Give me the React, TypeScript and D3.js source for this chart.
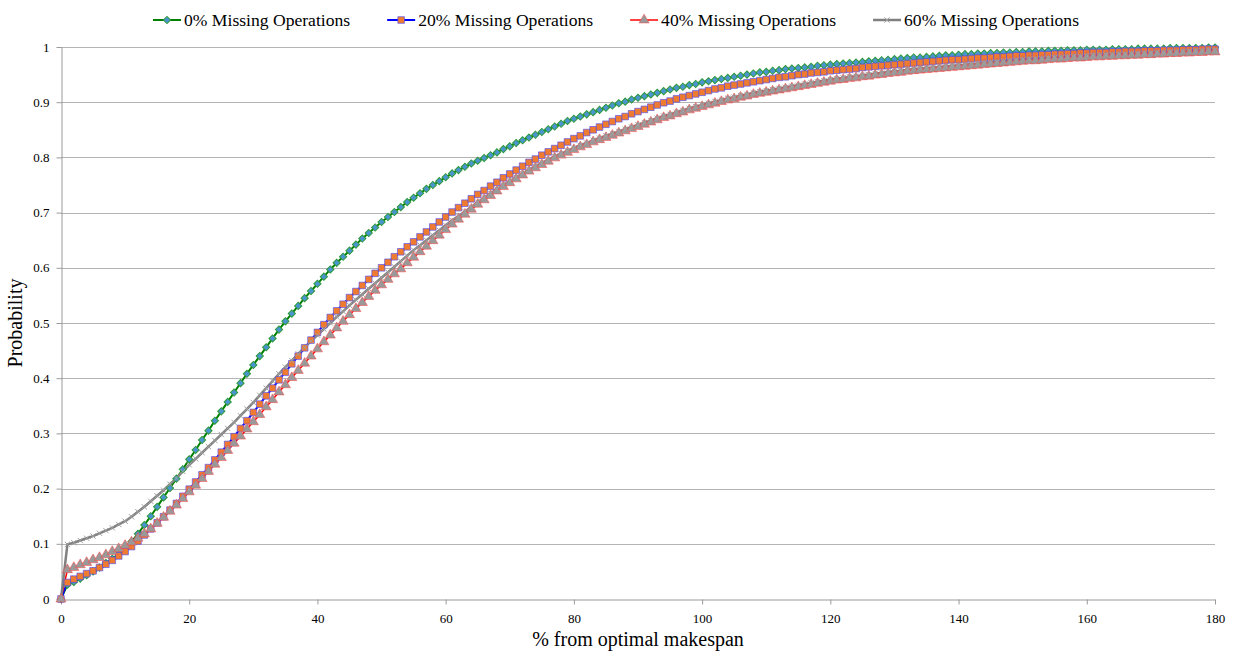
import React, { useRef, useEffect } from 'react';
import * as d3 from 'd3';

// x categories: % from optimal makespan
const makespanPct = d3.range(0, 181);

const xTicks = [0, 20, 40, 60, 80, 100, 120, 140, 160, 180];
const yTicks = [0, 0.1, 0.2, 0.3, 0.4, 0.5, 0.6, 0.7, 0.8, 0.9, 1];

const seriesNames = [
  '0% Missing Operations',
  '20% Missing Operations',
  '40% Missing Operations',
  '60% Missing Operations',
];

// cumulative probability, one value per x category
const missing0 = [
  0, 0.026, 0.031, 0.037, 0.043, 0.050, 0.057, 0.065, 0.073, 0.082,
  0.092, 0.104, 0.118, 0.134, 0.150, 0.167, 0.184, 0.201, 0.218, 0.235,
  0.253, 0.270, 0.288, 0.305, 0.323, 0.340, 0.357, 0.374, 0.391, 0.408,
  0.424, 0.440, 0.456, 0.472, 0.488, 0.503, 0.517, 0.531, 0.545, 0.558,
  0.571, 0.584, 0.597, 0.609, 0.620, 0.631, 0.642, 0.653, 0.663, 0.673,
  0.683, 0.692, 0.701, 0.710, 0.719, 0.727, 0.735, 0.743, 0.750, 0.757,
  0.764, 0.771, 0.777, 0.783, 0.789, 0.794, 0.799, 0.804, 0.809, 0.815,
  0.820, 0.826, 0.831, 0.836, 0.841, 0.846, 0.851, 0.856, 0.861, 0.866,
  0.870, 0.874, 0.878, 0.882, 0.886, 0.890, 0.894, 0.898, 0.901, 0.905,
  0.908, 0.911, 0.914, 0.917, 0.920, 0.923, 0.926, 0.928, 0.931, 0.933,
  0.936, 0.938, 0.940, 0.942, 0.944, 0.946, 0.948, 0.950, 0.952, 0.954,
  0.955, 0.957, 0.958, 0.960, 0.961, 0.962, 0.963, 0.964, 0.966, 0.967,
  0.968, 0.969, 0.970, 0.971, 0.972, 0.973, 0.974, 0.975, 0.976, 0.977,
  0.978, 0.979, 0.980, 0.981, 0.981, 0.982, 0.983, 0.984, 0.985, 0.985,
  0.986, 0.987, 0.987, 0.988, 0.988, 0.989, 0.989, 0.990, 0.990, 0.991,
  0.991, 0.992, 0.992, 0.992, 0.993, 0.993, 0.993, 0.994, 0.994, 0.994,
  0.995, 0.995, 0.995, 0.995, 0.996, 0.996, 0.996, 0.996, 0.997, 0.997,
  0.997, 0.997, 0.997, 0.998, 0.998, 0.998, 0.998, 0.998, 0.998, 0.999,
  0.999,
];

const missing20 = [
  0, 0.030, 0.036, 0.041, 0.046, 0.051, 0.057, 0.063, 0.070, 0.078,
  0.086, 0.095, 0.105, 0.116, 0.127, 0.138, 0.149, 0.161, 0.173, 0.186,
  0.199, 0.212, 0.225, 0.238, 0.252, 0.266, 0.280, 0.294, 0.309, 0.323,
  0.338, 0.353, 0.368, 0.382, 0.397, 0.411, 0.426, 0.440, 0.455, 0.469,
  0.483, 0.497, 0.510, 0.522, 0.534, 0.546, 0.557, 0.568, 0.579, 0.590,
  0.600, 0.610, 0.620, 0.629, 0.638, 0.647, 0.656, 0.665, 0.674, 0.683,
  0.692, 0.701, 0.709, 0.717, 0.725, 0.733, 0.740, 0.748, 0.755, 0.763,
  0.770, 0.777, 0.784, 0.791, 0.797, 0.804, 0.810, 0.816, 0.822, 0.828,
  0.834, 0.839, 0.845, 0.850, 0.855, 0.860, 0.865, 0.870, 0.874, 0.879,
  0.883, 0.887, 0.891, 0.895, 0.899, 0.902, 0.906, 0.909, 0.912, 0.915,
  0.918, 0.921, 0.924, 0.926, 0.929, 0.931, 0.933, 0.935, 0.937, 0.939,
  0.941, 0.943, 0.945, 0.946, 0.948, 0.950, 0.951, 0.953, 0.954, 0.955,
  0.957, 0.958, 0.959, 0.960, 0.961, 0.963, 0.964, 0.965, 0.966, 0.967,
  0.968, 0.969, 0.970, 0.971, 0.972, 0.973, 0.974, 0.975, 0.976, 0.977,
  0.977, 0.978, 0.979, 0.980, 0.980, 0.981, 0.982, 0.982, 0.983, 0.984,
  0.984, 0.985, 0.985, 0.986, 0.986, 0.987, 0.987, 0.988, 0.988, 0.989,
  0.989, 0.990, 0.990, 0.990, 0.991, 0.991, 0.992, 0.992, 0.992, 0.993,
  0.993, 0.993, 0.994, 0.994, 0.994, 0.995, 0.995, 0.995, 0.996, 0.996,
  0.996,
];

const missing40 = [
  0, 0.053, 0.057, 0.062, 0.066, 0.071, 0.075, 0.080, 0.086, 0.091,
  0.097, 0.103, 0.110, 0.118, 0.127, 0.137, 0.148, 0.159, 0.170, 0.182,
  0.194, 0.206, 0.218, 0.231, 0.244, 0.256, 0.269, 0.282, 0.295, 0.308,
  0.321, 0.334, 0.348, 0.361, 0.375, 0.388, 0.401, 0.414, 0.427, 0.440,
  0.453, 0.466, 0.478, 0.491, 0.503, 0.515, 0.526, 0.537, 0.548, 0.559,
  0.569, 0.579, 0.589, 0.598, 0.609, 0.619, 0.629, 0.639, 0.649, 0.659,
  0.669, 0.679, 0.688, 0.697, 0.706, 0.715, 0.723, 0.731, 0.739, 0.747,
  0.754, 0.761, 0.768, 0.775, 0.781, 0.787, 0.793, 0.799, 0.804, 0.809,
  0.814, 0.819, 0.823, 0.828, 0.832, 0.836, 0.840, 0.844, 0.848, 0.852,
  0.856, 0.860, 0.864, 0.868, 0.872, 0.875, 0.879, 0.882, 0.886, 0.889,
  0.892, 0.895, 0.898, 0.901, 0.904, 0.906, 0.909, 0.911, 0.914, 0.916,
  0.918, 0.920, 0.922, 0.924, 0.926, 0.928, 0.930, 0.932, 0.934, 0.936,
  0.938, 0.940, 0.941, 0.943, 0.944, 0.946, 0.947, 0.949, 0.950, 0.952,
  0.953, 0.954, 0.956, 0.957, 0.958, 0.959, 0.960, 0.961, 0.962, 0.963,
  0.964, 0.965, 0.966, 0.967, 0.968, 0.969, 0.970, 0.971, 0.972, 0.973,
  0.974, 0.975, 0.975, 0.976, 0.977, 0.978, 0.978, 0.979, 0.980, 0.980,
  0.981, 0.982, 0.982, 0.983, 0.983, 0.984, 0.984, 0.985, 0.985, 0.986,
  0.986, 0.987, 0.987, 0.988, 0.988, 0.989, 0.989, 0.990, 0.990, 0.991,
  0.991,
];

const missing60 = [
  0, 0.099, 0.102, 0.106, 0.110, 0.114, 0.119, 0.124, 0.129, 0.135,
  0.141, 0.149, 0.158, 0.167, 0.177, 0.187, 0.197, 0.208, 0.219, 0.231,
  0.243, 0.254, 0.265, 0.276, 0.287, 0.298, 0.309, 0.320, 0.332, 0.344,
  0.356, 0.369, 0.382, 0.395, 0.408, 0.420, 0.432, 0.444, 0.456, 0.467,
  0.478, 0.489, 0.500, 0.511, 0.521, 0.532, 0.542, 0.552, 0.562, 0.572,
  0.582, 0.592, 0.602, 0.612, 0.622, 0.632, 0.641, 0.650, 0.659, 0.668,
  0.677, 0.686, 0.694, 0.702, 0.710, 0.719, 0.727, 0.735, 0.743, 0.750,
  0.757, 0.764, 0.771, 0.778, 0.784, 0.790, 0.796, 0.802, 0.807, 0.812,
  0.817, 0.822, 0.826, 0.831, 0.835, 0.839, 0.843, 0.847, 0.851, 0.855,
  0.859, 0.863, 0.867, 0.871, 0.875, 0.878, 0.882, 0.885, 0.889, 0.892,
  0.895, 0.898, 0.901, 0.904, 0.907, 0.909, 0.912, 0.914, 0.917, 0.919,
  0.921, 0.923, 0.925, 0.927, 0.929, 0.931, 0.933, 0.935, 0.937, 0.939,
  0.941, 0.943, 0.944, 0.946, 0.947, 0.949, 0.950, 0.952, 0.953, 0.955,
  0.956, 0.957, 0.959, 0.960, 0.961, 0.962, 0.963, 0.964, 0.965, 0.966,
  0.967, 0.968, 0.969, 0.970, 0.971, 0.972, 0.973, 0.974, 0.975, 0.976,
  0.977, 0.978, 0.978, 0.979, 0.980, 0.981, 0.981, 0.982, 0.983, 0.983,
  0.984, 0.985, 0.985, 0.986, 0.986, 0.987, 0.987, 0.988, 0.988, 0.989,
  0.989, 0.990, 0.990, 0.991, 0.991, 0.992, 0.992, 0.993, 0.993, 0.994,
  0.994,
];

const allSeries = [missing0, missing20, missing40, missing60];

// look of each series, Excel style
const styles = [
  { line: '#008000', width: 2, symbol: d3.symbolSquare, size: 26, rotate: 45, fill: '#4a94d0', stroke: '#2f9a3c', sw: 1 },
  { line: '#0000ff', width: 2, symbol: d3.symbolSquare, size: 44, rotate: 0, fill: '#ee7b30', stroke: 'rgba(70,70,255,0.6)', sw: 1 },
  { line: '#ff0000', width: 1.5, symbol: d3.symbolTriangle, size: 44, rotate: 0, fill: '#999999', stroke: 'rgba(255,70,70,0.6)', sw: 0.9 },
  { line: '#808080', width: 2.5, symbol: d3.symbolX, size: 20, rotate: 0, fill: 'none', stroke: '#a0a0a0', sw: 1 },
];

const W = 1235;
const H = 652;
const margin = { top: 47, right: 20, bottom: 53, left: 61 };
const FONT = "'Liberation Serif', 'DejaVu Serif', serif";

const App = () => {
  const chart = useRef<SVGSVGElement>(null);

  useEffect(() => {
    const svg = d3.select(chart.current);
    svg.selectAll('*').remove();

    const x = d3.scaleLinear().domain([0, 180]).range([margin.left, W - margin.right]);
    const y = d3.scaleLinear().domain([0, 1]).range([H - margin.bottom, margin.top]);

    // grid
    svg.append('g')
      .selectAll('line')
      .data(yTicks.slice(1))
      .join('line')
      .attr('x1', x(0))
      .attr('x2', x(180))
      .attr('y1', d => Math.round(y(d)) + 0.5)
      .attr('y2', d => Math.round(y(d)) + 0.5)
      .attr('stroke', '#b4b4b4')
      .attr('stroke-width', 1);

    // x axis
    const xAxis = svg.append('g')
      .attr('transform', `translate(0,${Math.round(y(0)) + 0.5})`)
      .call(d3.axisBottom(x).tickValues(xTicks).tickSize(5).tickSizeOuter(0).tickPadding(9).tickFormat(d => String(d)));
    xAxis.attr('font-family', null).attr('font-size', null);
    xAxis.select('.domain').attr('stroke', '#9a9a9a');
    xAxis.selectAll('line').attr('stroke', '#9a9a9a');
    xAxis.selectAll('text').style('font-family', FONT).style('font-size', '13px').attr('fill', '#000');

    // y axis
    const yAxis = svg.append('g')
      .attr('transform', `translate(${Math.round(x(0)) + 0.5},0)`)
      .call(d3.axisLeft(y).tickValues(yTicks).tickSize(5).tickSizeOuter(0).tickPadding(7).tickFormat(d => String(d)));
    yAxis.attr('font-family', null).attr('font-size', null);
    yAxis.select('.domain').attr('stroke', '#9a9a9a');
    yAxis.selectAll('line').attr('stroke', '#9a9a9a');
    yAxis.selectAll('text').style('font-family', FONT).style('font-size', '13px').attr('fill', '#000');

    // axis titles
    svg.append('text')
      .attr('x', (x(0) + x(180)) / 2)
      .attr('y', 646)
      .attr('text-anchor', 'middle')
      .style('font-family', FONT)
      .style('font-size', '20px')
      .text('% from optimal makespan');

    svg.append('text')
      .attr('transform', `translate(22,${(y(0) + y(1)) / 2}) rotate(-90)`)
      .attr('text-anchor', 'middle')
      .style('font-family', FONT)
      .style('font-size', '20px')
      .text('Probability');

    // lines first, then markers on top (like Excel)
    const line = d3.line<number>()
      .x((d, i) => x(makespanPct[i]))
      .y(d => y(d));

    svg.append('g')
      .selectAll('path')
      .data(allSeries)
      .join('path')
      .attr('d', d => line(d))
      .attr('fill', 'none')
      .attr('stroke', (d, i) => styles[i].line)
      .attr('stroke-width', (d, i) => styles[i].width)
      .attr('stroke-linejoin', 'round');

    allSeries.forEach((values, s) => {
      const st = styles[s];
      const sym = d3.symbol().type(st.symbol).size(st.size);
      svg.append('g')
        .selectAll('path')
        .data(values)
        .join('path')
        .attr('d', sym)
        .attr('transform', (d, i) => `translate(${x(makespanPct[i])},${y(d)}) rotate(${st.rotate})`)
        .attr('fill', st.fill)
        .attr('stroke', st.stroke)
        .attr('stroke-width', st.sw);
    });

    // legend
    const legend = svg.append('g');
    const items = legend.selectAll('g')
      .data(seriesNames)
      .join('g');
    items.append('line')
      .attr('x1', 0).attr('x2', 28)
      .attr('y1', 20).attr('y2', 20)
      .attr('stroke', (d, i) => styles[i].line)
      .attr('stroke-width', (d, i) => styles[i].width);
    items.append('path')
      .attr('d', (d, i) => d3.symbol().type(styles[i].symbol).size(styles[i].size)())
      .attr('transform', (d, i) => `translate(14,20) rotate(${styles[i].rotate})`)
      .attr('fill', (d, i) => styles[i].fill)
      .attr('stroke', (d, i) => styles[i].stroke)
      .attr('stroke-width', (d, i) => styles[i].sw);
    items.append('text')
      .attr('x', 31)
      .attr('y', 26)
      .style('font-family', FONT)
      .style('font-size', '17.6px')
      .text(d => d);

    const widths: number[] = [];
    items.select('text').each(function () {
      widths.push((this as SVGTextElement).getComputedTextLength());
    });
    const total = d3.sum(widths) + widths.length * 31 + (widths.length - 1) * 37;
    let cx = 616 - total / 2;
    items.attr('transform', (d, i) => {
      const t = `translate(${cx},0)`;
      cx += 31 + widths[i] + 37;
      return t;
    });
  }, []);

  return (
    <div>
      <svg
        ref={chart}
        width={W}
        height={H}
        style={{ position: 'absolute', left: 0, top: 0, background: 'white' }}
      />
    </div>
  );
};

export default App;
